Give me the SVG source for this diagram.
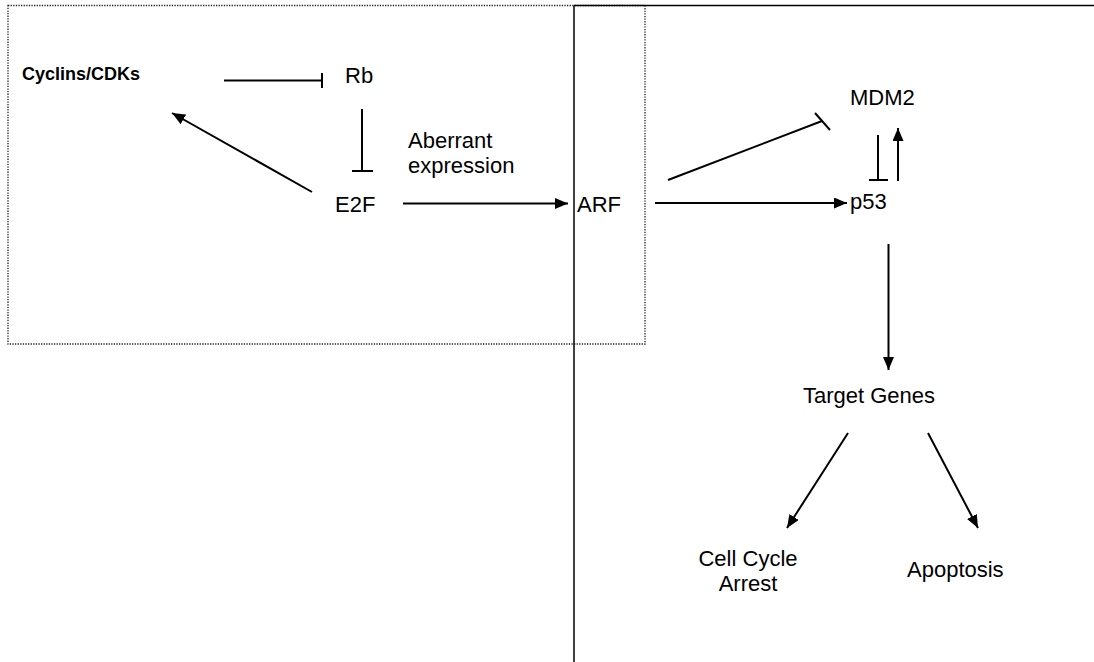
<svg xmlns="http://www.w3.org/2000/svg" width="1094" height="662" viewBox="0 0 1094 662">
<style>
text{font-family:"Liberation Sans",Arial,sans-serif;font-size:22px;fill:#000}
.b{font-weight:bold;font-size:18px}
.ln{stroke:#000;stroke-width:2;fill:none}
.thin{stroke:#000;stroke-width:1.5;fill:none}
</style>
<defs>
<marker id="ah" viewBox="0 0 13 11" refX="13" refY="5.5" markerWidth="13" markerHeight="11" markerUnits="userSpaceOnUse" orient="auto">
<path d="M0,0 L13,5.5 L0,11 Z" fill="#000"/>
</marker>
</defs>
<rect width="1094" height="662" fill="#fff"/>
<g id="frame">
<rect x="8" y="5.5" width="637" height="338.5" fill="none" stroke="#222" stroke-width="1.3" stroke-dasharray="1.3,1.3"/>
<line x1="574" y1="5.5" x2="574" y2="662" class="thin"/>
<line x1="574" y1="5.5" x2="1094" y2="5.5" class="thin"/>
</g>
<g id="connectors">
<path d="M224,80.5 H322 M322,73 V88" class="ln"/>
<path d="M362,109 V171 M352,171 H373" class="ln"/>
<line x1="312" y1="192" x2="172" y2="113" class="ln" marker-end="url(#ah)"/>
<line x1="403" y1="203.5" x2="568" y2="203.5" class="ln" marker-end="url(#ah)"/>
<line x1="655" y1="203" x2="847" y2="203" class="ln" marker-end="url(#ah)"/>
<path d="M668,180 L822,121 M815,113 L830,130" class="ln" stroke-width="2.5"/>
<path d="M878,135 V180 M869,180 H888" class="ln" stroke-width="2.5"/>
<line x1="898" y1="181" x2="898" y2="128" class="ln" marker-end="url(#ah)"/>
<line x1="888.5" y1="244" x2="888.5" y2="370" class="ln" marker-end="url(#ah)"/>
<line x1="848" y1="433" x2="787" y2="528" class="ln" marker-end="url(#ah)"/>
<line x1="928" y1="433" x2="978" y2="528" class="ln" marker-end="url(#ah)"/>
</g>
<g id="cyclins"><text x="22" y="80" class="b">Cyclins/CDKs</text></g>
<g id="rb"><text x="345" y="83">Rb</text></g>
<g id="aberrant"><text x="408" y="148">Aberrant</text><text x="408" y="173">expression</text></g>
<g id="e2f"><text x="335" y="212">E2F</text></g>
<g id="arf"><text x="577" y="212">ARF</text></g>
<g id="mdm2"><text x="850" y="105">MDM2</text></g>
<g id="p53"><text x="850" y="209">p53</text></g>
<g id="target"><text x="803" y="403">Target Genes</text></g>
<g id="arrest"><text x="748" y="566" text-anchor="middle">Cell Cycle</text><text x="748" y="591" text-anchor="middle">Arrest</text></g>
<g id="apoptosis"><text x="907" y="577">Apoptosis</text></g>
</svg>
